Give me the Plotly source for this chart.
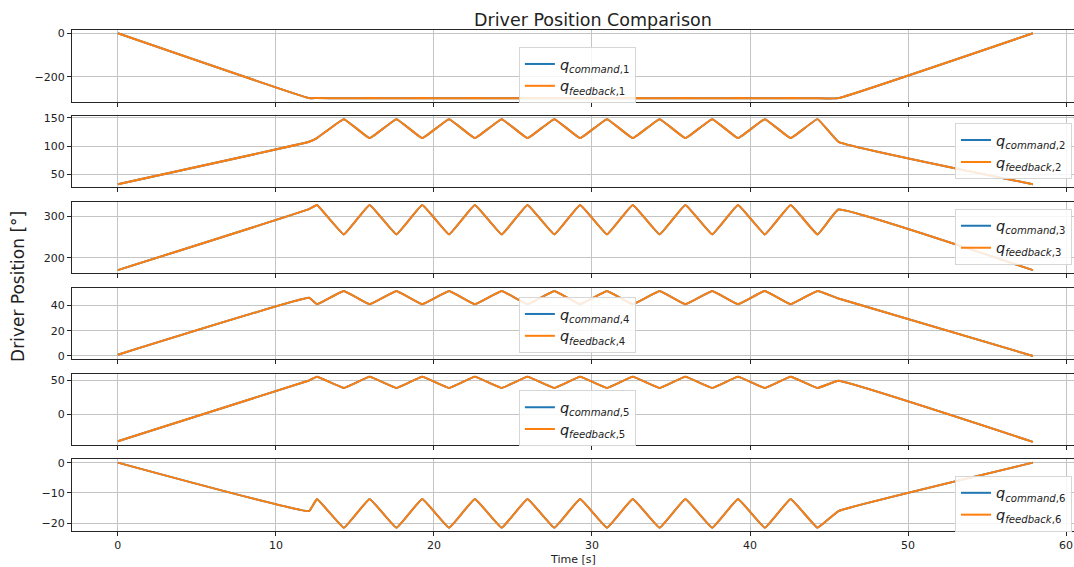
import plotly.graph_objects as go
from plotly.subplots import make_subplots

# ---- data ----
time_s = [0.0, 12.1, 12.6, 14.3, 15.93, 17.63, 19.26, 20.96, 22.59, 24.29,
          25.92, 27.62, 29.25, 30.95, 32.58, 34.28, 35.91, 37.61, 39.24,
          40.94, 42.57, 44.27, 45.6, 57.9]

q1 = [0, -299, -298, -300, -298, -300, -298, -300, -298, -300, -298, -300,
      -298, -300, -298, -300, -298, -300, -298, -300, -298, -300, -299, 0]
q2 = [33, 108, 114.5, 148, 114.5, 148, 114.5, 148, 114.5, 148, 114.5, 148,
      114.5, 148, 114.5, 148, 114.5, 148, 114.5, 148, 114.5, 148, 108, 33]
q3 = [170, 317, 327, 256, 327, 256, 327, 256, 327, 256, 327, 256,
      327, 256, 327, 256, 327, 256, 327, 256, 327, 256, 316, 170]
q4 = [1, 46, 41, 51.5, 41, 51.5, 41, 51.5, 41, 51.5, 41, 51.5,
      41, 51.5, 41, 51.5, 41, 51.5, 41, 51.5, 41, 51.5, 45.5, 0]
q5 = [-40, 50, 55.5, 39, 55.5, 39, 55.5, 39, 55.5, 39, 55.5, 39,
      55.5, 39, 55.5, 39, 55.5, 39, 55.5, 39, 55.5, 39, 49.5, -41]
q6 = [0, -16, -12, -21.5, -12, -21.5, -12, -21.5, -12, -21.5, -12, -21.5,
      -12, -21.5, -12, -21.5, -12, -21.5, -12, -21.5, -12, -21.5, -16, 0]

joint_ids = [1, 2, 3, 4, 5, 6]
command = [q1, q2, q3, q4, q5, q6]
feedback = [q1, q2, q3, q4, q5, q6]
y_dticks = [200, 50, 100, 20, 50, 10]
x_ticks = [0, 10, 20, 30, 40, 50, 60]

BLUE = "#1f77b4"
ORANGE = "#ff7f0e"
GRID = "#c4c4c4"
FRAME = "#262626"
FONT = "DejaVu Sans"

fig = make_subplots(rows=6, cols=1, shared_xaxes=True, vertical_spacing=0.0285)

# (x, xanchor, y) in paper coordinates
legend_pos = [
    (0.446, "left", 0.966), (0.998, "right", 0.814), (0.998, "right", 0.643),
    (0.446, "left", 0.467), (0.446, "left", 0.281), (0.998, "right", 0.110),
]

for i, (jid, qc, qf) in enumerate(zip(joint_ids, command, feedback), start=1):
    leg = "legend" if i == 1 else f"legend{i}"
    fig.add_trace(go.Scatter(x=time_s, y=qc, mode="lines",
                             line=dict(color=BLUE, width=2, shape="spline", smoothing=0.25),
                             name=f"<i>q</i><sub><i>command</i>,{jid}</sub>",
                             legend=leg), row=i, col=1)
    fig.add_trace(go.Scatter(x=time_s, y=qf, mode="lines",
                             line=dict(color=ORANGE, width=2, shape="spline", smoothing=0.25),
                             name=f"<i>q</i><sub><i>feedback</i>,{jid}</sub>",
                             legend=leg), row=i, col=1)
    lo, hi = min(qc + qf), max(qc + qf)
    pad = 0.05 * (hi - lo)
    fig.update_yaxes(range=[lo - pad, hi + pad], dtick=y_dticks[i - 1],
                     showgrid=True, gridcolor=GRID, gridwidth=1, automargin=False,
                     zeroline=False, showline=True, linecolor=FRAME, linewidth=1,
                     ticks="outside", ticklen=4, tickcolor=FRAME,
                     tickfont=dict(size=11, color="#222", family=FONT),
                     row=i, col=1)
    fig.update_xaxes(range=[-2.9, 60.5], tickvals=x_ticks, automargin=False,
                     showgrid=True, gridcolor=GRID, gridwidth=1,
                     zeroline=False, showline=True, mirror=True,
                     linecolor=FRAME, linewidth=1,
                     ticks="outside", ticklen=4, tickcolor=FRAME,
                     tickfont=dict(size=11, color="#222", family=FONT),
                     row=i, col=1)
    lx, xa, ly = legend_pos[i - 1]
    fig.update_layout(**{leg: dict(x=lx, y=ly, xanchor=xa, yanchor="top",
                                   bgcolor="rgba(255,255,255,0.85)",
                                   bordercolor="#d6d6d6", borderwidth=1,
                                   itemwidth=30,
                                   font=dict(size=14.5, family=FONT, color="#222"),
                                   tracegroupgap=0)})

fig.update_xaxes(showticklabels=True, row=6, col=1)

fig.add_annotation(text="Time [s]", xref="paper", yref="paper",
                   x=0.5, y=-0.056, xanchor="center", yanchor="middle",
                   showarrow=False, font=dict(size=11, family=FONT, color="#222"))

fig.add_annotation(text="Driver Position [°]", textangle=-90,
                   xref="paper", yref="paper", x=-0.054, y=0.489,
                   xanchor="center", yanchor="middle", showarrow=False,
                   font=dict(size=17, family=FONT, color="#222"))

fig.update_layout(
    width=1074, height=567,
    margin=dict(l=72, r=0, t=30, b=36, autoexpand=False),
    paper_bgcolor="white", plot_bgcolor="white",
    title=dict(text="Driver Position Comparison", xref="container",
               x=474 / 1074, xanchor="left", y=1 - 20 / 567, yanchor="middle",
               font=dict(size=17.5, family=FONT, color="#222")),
    font=dict(family=FONT),
)

fig.write_html(
    "out.html",
    config={"displayModeBar": False},
    post_script="document.body.style.margin='0';document.body.style.overflow='hidden';",
)
